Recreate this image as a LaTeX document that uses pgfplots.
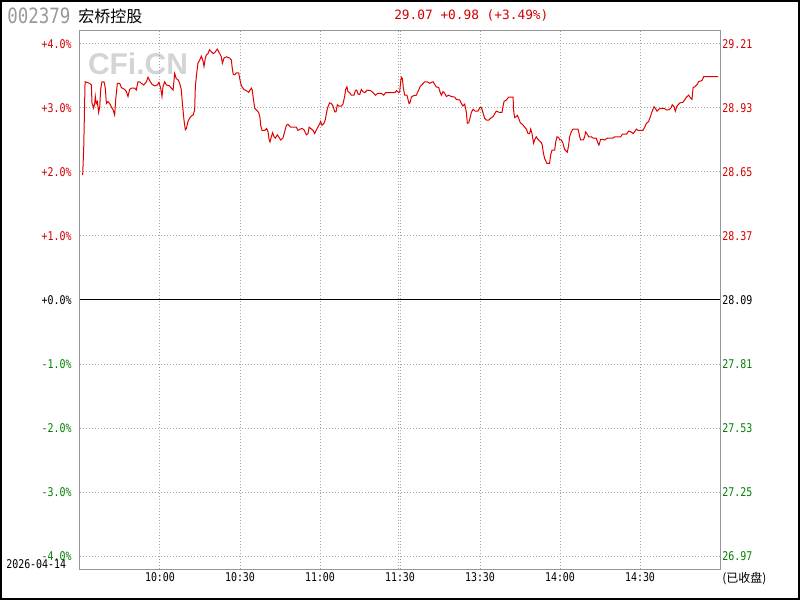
\documentclass[border=0pt]{standalone}
\usepackage{fontspec}
\usepackage{pgfplots}
\pgfplotsset{compat=1.18}
\setmainfont{DejaVu Sans Mono}
\newfontfamily\tickfont{DejaVu Sans Mono}[FakeStretch=0.83]
\newfontfamily\cjk{Noto Sans CJK SC}
\newfontfamily\wmfont{Liberation Sans}

\definecolor{tred}{RGB}{208,0,0}
\definecolor{lred}{RGB}{224,0,0}
\definecolor{tgreen}{RGB}{0,128,0}
\definecolor{gridgray}{RGB}{165,165,165}
\definecolor{boxgray}{RGB}{150,150,150}

\begin{document}
\begin{tikzpicture}
% pixel grid of the 800x600 image, origin top left
\begin{scope}[shift={(-60pt,426.75pt)}, x=0.75pt, y=-0.75pt]
  \path[use as bounding box] (0,0) rectangle (800,600);
  \node[text=black!17, font=\wmfont\bfseries\fontsize{22.5}{22}\selectfont] at (138,64) {CFi.CN};
\end{scope}

\begin{axis}[
  at={(0,0)}, anchor=south west, scale only axis,
  width=480pt, height=403.5pt,
  xmin=0, xmax=240, ymin=-4.203, ymax=4.203,
  axis line style={color=boxgray, line width=0.75pt},
  xtick={30,60,90,120,150,180,210},
  xticklabels={10:00,10:30,11:00,11:30,13:30,14:00,14:30},
  ytick={-4,-3,-2,-1,0,1,2,3,4},
  yticklabels={{\color{tgreen}-4.0\%},{\color{tgreen}-3.0\%},{\color{tgreen}-2.0\%},{\color{tgreen}-1.0\%},{\color{black}+0.0\%},{\color{tred}+1.0\%},{\color{tred}+2.0\%},{\color{tred}+3.0\%},{\color{tred}+4.0\%}},
  major tick length=0pt,
  grid=major,
  grid style={color=gridgray, line width=0.75pt, dash pattern=on 0.75pt off 1.5pt},
  ticklabel style={font=\tickfont\fontsize{9}{10}\selectfont},
  yticklabel style={inner sep=0pt, xshift=-6pt},
  xticklabel style={inner sep=0pt, yshift=-2.5pt},
]
\addplot[black, line width=0.75pt, forget plot] coordinates {(0,0) (240,0)};
\addplot[lred, line width=0.75pt, no marks] coordinates {
(1.0,1.95) (1.4,2.38) (1.9,3.41) (3.6,3.385) (4.25,3.36) (4.5,3.08) (5.1,3.0)
(5.5,3.07) (5.75,3.18) (6.1,3.07) (6.5,3.10) (7.0,2.93) (7.4,3.02) (7.75,3.29)
(8.25,3.41) (9.0,3.41) (9.5,3.31) (9.9,3.07) (10.5,3.10) (11.1,3.07) (11.75,3.02)
(12.4,2.97) (13.0,2.89) (13.4,3.135) (14.0,3.385) (14.9,3.385) (15.5,3.32)
(16.75,3.29) (17.4,3.255) (18.0,3.18) (18.6,3.29) (19.25,3.31) (20.5,3.31)
(21.1,3.28) (21.75,3.41) (22.4,3.41) (23.0,3.385) (23.9,3.36) (24.9,3.41)
(25.5,3.48) (26.1,3.43) (27.0,3.37) (28.0,3.345) (29.0,3.36) (29.6,3.40)
(30.25,3.31) (30.75,3.18) (31.1,3.33) (31.75,3.41) (32.4,3.36) (33.6,3.345)
(34.25,3.31) (34.9,3.28) (35.5,3.54) (36.1,3.46) (36.75,3.44) (37.4,3.385)
(38.0,3.28) (38.4,3.07) (39.0,2.81) (39.5,2.66) (39.9,2.68) (40.5,2.79)
(41.1,2.84) (41.75,2.875) (42.4,2.89) (43.0,2.97) (43.25,3.33) (43.75,3.54)
(44.25,3.70) (44.9,3.75) (45.5,3.81) (46.1,3.74) (46.5,3.65) (47.0,3.78)
(47.4,3.83) (48.0,3.85) (48.6,3.91) (49.25,3.88) (49.9,3.85) (50.5,3.865)
(51.5,3.92) (52.4,3.85) (53.0,3.80) (53.4,3.70) (54.0,3.78) (54.9,3.80)
(56.1,3.78) (56.75,3.75) (57.1,3.62) (57.5,3.52) (58.0,3.52) (58.6,3.55)
(59.5,3.55) (59.9,3.46) (60.25,3.385) (60.75,3.33) (61.5,3.29) (62.4,3.27)
(63.25,3.245) (64.25,3.31) (64.6,3.28) (65.0,3.15) (65.5,3.0) (66.1,2.97)
(67.0,2.93) (67.5,2.85) (67.75,2.73) (68.25,2.65) (69.25,2.65) (70.0,2.68)
(70.5,2.63) (70.9,2.51) (71.25,2.47) (71.75,2.55) (72.25,2.615) (72.75,2.55)
(73.25,2.53) (74.0,2.58) (74.5,2.55) (75.25,2.50) (76.1,2.53) (76.75,2.63)
(77.4,2.73) (78.0,2.745) (79.0,2.70) (81.1,2.70) (81.75,2.65) (82.6,2.67)
(83.25,2.68) (84.0,2.66) (84.9,2.58) (85.5,2.60) (85.9,2.70) (86.5,2.68)
(87.4,2.65) (88.0,2.60) (88.9,2.68) (89.6,2.73) (90.25,2.79) (90.75,2.73)
(91.5,2.76) (92.0,2.82) (92.5,2.94) (93.0,3.02) (93.6,3.08) (94.25,3.07)
(94.9,3.03) (95.5,2.94) (96.0,2.94) (96.5,3.05) (97.1,3.03) (98.0,3.03)
(98.6,3.06) (99.25,3.18) (99.6,3.29) (100.1,3.33) (100.5,3.255) (101.1,3.24)
(101.75,3.20) (102.75,3.20) (103.25,3.27) (103.75,3.28) (104.25,3.22)
(104.9,3.21) (105.5,3.29) (106.1,3.255) (106.75,3.24) (107.75,3.28)
(109.0,3.27) (109.9,3.24) (110.75,3.20) (111.75,3.23) (113.0,3.23)
(113.9,3.20) (114.6,3.24) (118.0,3.24) (118.75,3.27) (119.5,3.24)
(119.9,3.255) (120.25,3.41) (120.5,3.48) (120.9,3.46) (121.25,3.31)
(121.75,3.20) (122.6,3.20) (123.0,3.135) (123.4,3.07) (123.75,3.08)
(124.25,3.17) (124.9,3.19) (126.1,3.20) (127.0,3.28) (127.6,3.34)
(128.4,3.37) (129.25,3.41) (130.25,3.41) (131.1,3.385) (131.75,3.40)
(132.4,3.41) (133.0,3.37) (133.6,3.33) (134.5,3.32) (135.1,3.24) (135.5,3.20)
(136.1,3.255) (136.75,3.23) (137.4,3.18) (138.25,3.20) (139.25,3.18)
(140.5,3.17) (141.1,3.135) (142.4,3.125) (143.0,3.07) (143.6,3.03)
(144.25,3.06) (144.9,2.93) (145.25,2.76) (145.75,2.77) (146.25,2.84)
(146.75,2.93) (147.4,2.98) (148.25,2.95) (149.25,2.95) (149.9,3.005)
(150.5,3.01) (151.1,2.93) (151.75,2.84) (152.4,2.81) (153.25,2.81)
(154.0,2.84) (154.9,2.865) (155.5,2.91) (156.1,2.95) (156.75,2.94)
(157.4,2.93) (158.25,2.93) (158.6,3.02) (159.0,3.10) (159.9,3.125)
(160.75,3.17) (162.4,3.17) (162.6,2.96) (163.0,2.85) (163.6,2.865)
(164.0,2.885) (164.5,2.84) (165.1,2.77) (165.9,2.745) (166.75,2.70)
(167.4,2.67) (168.0,2.60) (168.6,2.60) (169.0,2.67) (169.5,2.60) (170.1,2.45)
(170.5,2.50) (171.1,2.55) (171.75,2.51) (172.4,2.48) (173.0,2.46)
(173.4,2.41) (173.75,2.30) (174.25,2.21) (175.1,2.135) (176.1,2.135)
(176.5,2.27) (177.0,2.34) (178.0,2.34) (178.4,2.47) (178.9,2.55) (179.5,2.54)
(179.9,2.50) (180.5,2.50) (181.1,2.45) (181.75,2.35) (182.75,2.31)
(183.25,2.42) (183.6,2.55) (184.25,2.63) (184.9,2.67) (186.75,2.67)
(187.4,2.55) (187.75,2.50) (188.75,2.50) (189.25,2.55) (189.6,2.625)
(190.1,2.60) (190.75,2.55) (191.75,2.55) (192.4,2.53) (193.6,2.53)
(194.25,2.45) (194.6,2.42) (195.25,2.51) (196.1,2.51) (196.75,2.50)
(197.75,2.53) (199.9,2.53) (200.5,2.55) (202.75,2.55) (203.4,2.59)
(204.9,2.59) (205.75,2.64) (206.5,2.63) (207.4,2.60) (208.0,2.63)
(208.6,2.67) (209.25,2.65) (211.1,2.65) (211.75,2.70) (212.4,2.76)
(213.25,2.79) (213.9,2.865) (214.5,2.94) (215.25,3.02) (215.75,2.995)
(216.4,2.95) (217.0,2.98) (217.75,2.995) (219.0,2.995) (219.9,2.97)
(220.75,2.97) (221.5,2.995) (222.1,3.05) (222.75,3.02) (223.25,2.95)
(223.75,3.02) (224.25,3.05) (225.0,3.08) (226.1,3.09) (226.75,3.125)
(227.4,3.17) (228.25,3.20) (228.9,3.16) (229.5,3.135) (229.9,3.32)
(230.5,3.33) (231.5,3.37) (232.0,3.41) (233.25,3.43) (233.9,3.49)
(239.25,3.49)
};
\end{axis}

\begin{axis}[
  at={(0,0)}, anchor=south west, scale only axis,
  width=480pt, height=403.5pt,
  xmin=0, xmax=240, ymin=-4.203, ymax=4.203,
  hide x axis,
  axis y line*=right,
  y axis line style={color=boxgray, line width=0.75pt, -},
  ytick={-4,-3,-2,-1,0,1,2,3,4},
  yticklabels={{\color{tgreen}26.97},{\color{tgreen}27.25},{\color{tgreen}27.53},{\color{tgreen}27.81},{\color{black}28.09},{\color{tred}28.37},{\color{tred}28.65},{\color{tred}28.93},{\color{tred}29.21}},
  major tick length=0pt,
  ticklabel style={font=\tickfont\fontsize{9}{10}\selectfont},
  yticklabel style={inner sep=0pt, xshift=1.5pt},
]
\end{axis}

\begin{scope}[shift={(-60pt,426.75pt)}, x=0.75pt, y=-0.75pt]
  \draw[line width=1.5pt] (1,1) rectangle (799,599);
  \draw[gridgray, line width=0.75pt, dash pattern=on 0.75pt off 1.5pt] (398,31) -- (398,569);
  \node[anchor=west, inner sep=0pt, text=black!40, font=\tickfont\fontsize{15.8}{16}\selectfont] at (7,16) {002379};
  \node[anchor=west, inner sep=0pt, font=\cjk\fontsize{12}{12}\selectfont] at (78,16) {宏桥控股};
  \node[anchor=west, inner sep=0pt, text=tred, font=\fontsize{9.6}{10}\selectfont] at (394,15) {29.07 +0.98 (+3.49\%)};
  \node[anchor=west, inner sep=0pt, font=\tickfont\fontsize{9}{10}\selectfont] at (6,564) {2026-04-14};
  \node[anchor=west, inner sep=0pt, font=\cjk\fontsize{9}{10}\selectfont] at (722,579) {(已收盘)};
\end{scope}
\end{tikzpicture}
\end{document}
